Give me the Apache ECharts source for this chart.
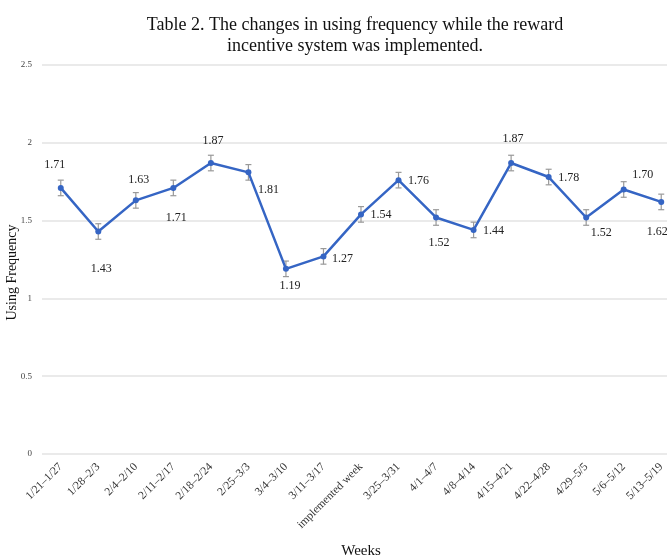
<!DOCTYPE html>
<html>
<head>
<meta charset="utf-8">
<script src="https://cdn.jsdelivr.net/npm/echarts@6/dist/echarts.min.js"></script>
<style>
  html, body { margin: 0; padding: 0; background: #fff; }
  #chart { width: 667px; height: 558px; }
</style>
</head>
<body>
<div id="chart"></div>
<script>
const weeks = ['1/21–1/27', '1/28–2/3', '2/4–2/10', '2/11–2/17', '2/18–2/24', '2/25–3/3', '3/4–3/10', '3/11–3/17',
  'implemented week', '3/25–3/31', '4/1–4/7', '4/8–4/14', '4/15–4/21', '4/22–4/28', '4/29–5/5', '5/6–5/12', '5/13–5/19'];
const frequency = [1.71, 1.43, 1.63, 1.71, 1.87, 1.81, 1.19, 1.27, 1.54, 1.76, 1.52, 1.44, 1.87, 1.78, 1.52, 1.70, 1.62];
const errors = [0.05, 0.05, 0.05, 0.05, 0.05, 0.05, 0.05, 0.05, 0.05, 0.05, 0.05, 0.05, 0.05, 0.05, 0.05, 0.05, 0.05];
const yTicks = [0, 0.5, 1, 1.5, 2, 2.5];

// where each value label sits relative to its point (px)
const labelOffsets = [[-6, -23], [3, 37], [3, -21], [3, 30], [2, -22], [20, 17], [4, 17], [19, 2], [20, 0],
  [20, 1], [3, 25], [20, 1], [2, -24], [20, 1], [15, 15], [19, -15], [-4, 30]];

const chart = echarts.init(document.getElementById('chart'));
const serif = '"Liberation Serif", "Times New Roman", serif';

chart.setOption({
  animation: false,
  title: {
    text: 'Table 2. The changes in using frequency while the reward\nincentive system was implemented.',
    left: 350,
    textAlign: 'center',
    top: 10,
    textStyle: { fontFamily: serif, fontSize: 18, fontWeight: 'normal', color: '#111', lineHeight: 21 }
  },
  grid: { left: 42, right: -13, top: 65, bottom: 104, outerBoundsMode: 'none', containLabel: false },
  xAxis: {
    type: 'category',
    data: weeks,
    name: 'Weeks',
    nameLocation: 'middle',
    nameGap: 90,
    nameMoveOverlap: false,
    nameTextStyle: { fontFamily: serif, fontSize: 15, color: '#111' },
    axisLine: { show: false },
    axisTick: { show: false },
    axisLabel: { rotate: 45, interval: 0, margin: 11, fontFamily: serif, fontSize: 11.5, color: '#333' }
  },
  yAxis: {
    type: 'value',
    min: yTicks[0],
    max: yTicks[yTicks.length - 1],
    interval: 0.5,
    name: 'Using Frequency',
    nameLocation: 'middle',
    nameGap: 23,
    nameMoveOverlap: false,
    nameTextStyle: { fontFamily: serif, fontSize: 14, color: '#111', padding: [0, 26, 0, 0] },
    axisLabel: { margin: 10, fontFamily: serif, fontSize: 9, color: '#444' },
    splitLine: { lineStyle: { color: '#e3e3e3', width: 1.5 } }
  },
  series: [
    {
      type: 'line',
      data: frequency.map((v, i) => ({
        value: v,
        label: { offset: labelOffsets[i] }
      })),
      symbol: 'circle',
      symbolSize: 6,
      lineStyle: { color: '#3565c4', width: 2.5 },
      itemStyle: { color: '#3565c4' },
      label: {
        show: true,
        position: 'inside',
        formatter: p => p.value.toFixed(2),
        fontFamily: serif,
        fontSize: 12,
        color: '#222'
      },
      z: 3
    },
    {
      type: 'custom',
      data: frequency.map((v, i) => [i, v - errors[i], v + errors[i]]),
      renderItem: (params, api) => {
        const lo = api.coord([api.value(0), api.value(1)]);
        const hi = api.coord([api.value(0), api.value(2)]);
        const cap = 3;
        const style = { stroke: '#999', lineWidth: 1.2 };
        return {
          type: 'group',
          children: [
            { type: 'line', shape: { x1: lo[0], y1: lo[1], x2: hi[0], y2: hi[1] }, style },
            { type: 'line', shape: { x1: lo[0] - cap, y1: lo[1], x2: lo[0] + cap, y2: lo[1] }, style },
            { type: 'line', shape: { x1: hi[0] - cap, y1: hi[1], x2: hi[0] + cap, y2: hi[1] }, style }
          ]
        };
      },
      z: 2
    }
  ]
});
</script>
</body>
</html>
